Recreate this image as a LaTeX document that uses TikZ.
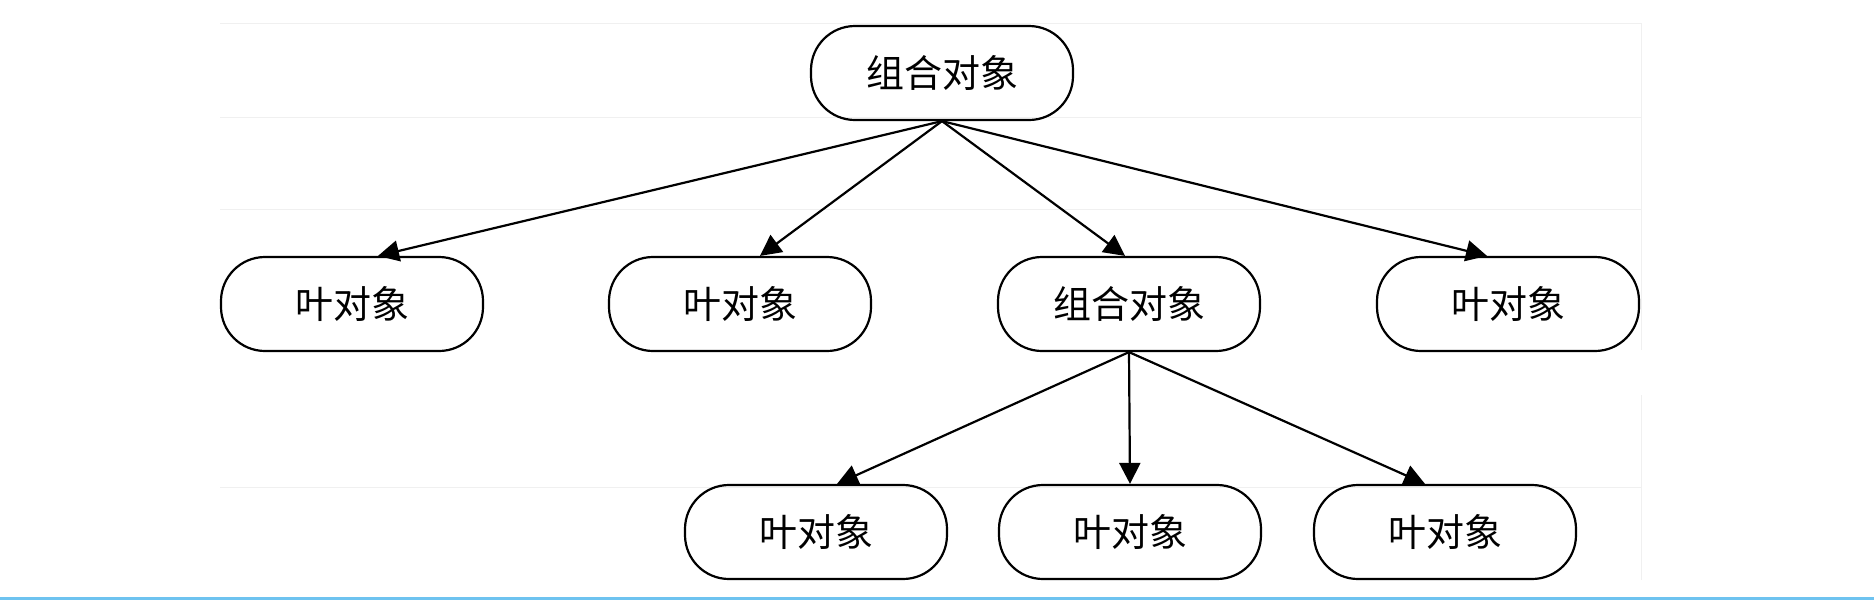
\documentclass[tikz,border=0pt]{standalone}
\usepackage{fontspec}
\usepackage{tikz}
\usetikzlibrary{arrows.meta}
\newfontfamily\cjk{Noto Sans CJK SC}
\definecolor{barblue}{RGB}{110,195,240}

\begin{document}
\begin{tikzpicture}[x=0.5pt,y=-0.5pt,
  obj/.style={draw,line width=1.1pt,rounded corners=22pt,minimum width=131pt,
    minimum height=47pt,inner sep=0pt,font=\cjk\fontsize{19}{22}\selectfont},
  link/.style={draw,->,line width=1.1pt},
  >={Triangle[length=10.5pt,width=10.5pt]}]
  \useasboundingbox (0,0) rectangle (1874,600);
  % faint frame lines of the screenshot
  \path[draw,black!6] (220,23) -- (1641,23) (220,117) -- (1641,117)
    (220,209) -- (1641,209) (220,487) -- (1641,487);
  \path[draw,black!6] (1641,23) -- (1641,350) (1641,395) -- (1641,580);
  \path[draw,barblue,line width=1.5pt] (0,598) -- (1874,598);

  \node[obj] (root) at (942,73) {组合对象};
  \node[obj] (leafa) at (352,304) {叶对象};
  \node[obj] (leafb) at (740,304) {叶对象};
  \node[obj] (sub) at (1129,304) {组合对象};
  \node[obj] (leafc) at (1508,304) {叶对象};
  \node[obj] (leafd) at (816,532) {叶对象};
  \node[obj] (leafe) at (1130,532) {叶对象};
  \node[obj] (leaff) at (1445,532) {叶对象};

  \foreach \n/\s in {leafa/13pt,leafb/10pt,sub/-2pt,leafc/-10.5pt}{
    \path[link] (root.south) -- ([xshift=\s]\n.north);
  }
  \foreach \n/\s in {leafd/10.5pt,leafe/0pt,leaff/-10pt}{
    \path[link] (sub.south) -- ([xshift=\s]\n.north);
  }
\end{tikzpicture}
\end{document}
